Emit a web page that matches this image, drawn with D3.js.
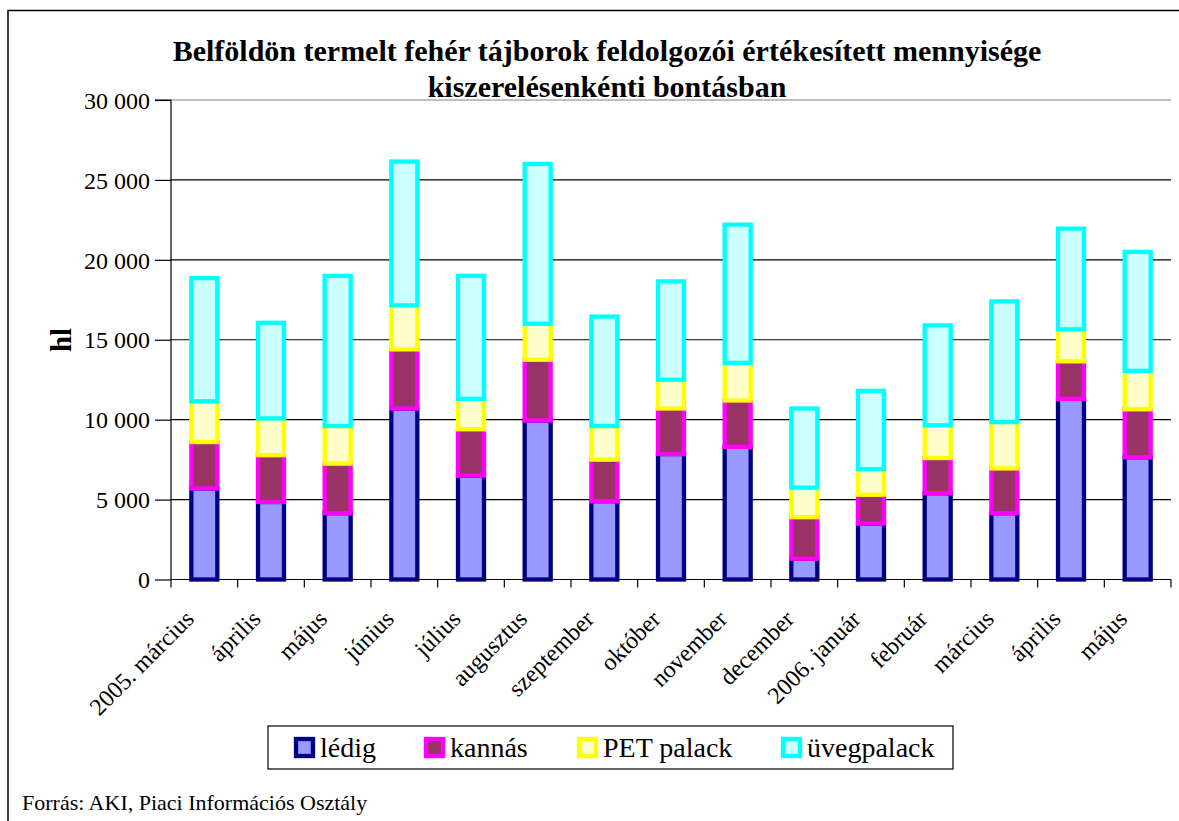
<!DOCTYPE html>
<html><head><meta charset="utf-8">
<script src="https://cdn.jsdelivr.net/npm/d3@7"></script>
<style>body{margin:0;background:#fff}svg{display:block}</style>
</head><body>
<svg id="c" width="1179" height="821"></svg>
<script>
const categories = ["2005. március","április","május","június","július","augusztus","szeptember","október","november","december","2006. január","február","március","április","május"];
const ledig     = [5700,4850,4150,10700,6500,9950,4900,7850,8300,1300,3500,5400,4150,11300,7650];
const kannas    = [2900,2930,3100,3700,2900,3800,2600,2850,2900,2600,1800,2200,2800,2350,3000];
const petPalack = [2550,2300,2350,2750,1900,2250,2100,1800,2350,1850,1600,2050,2900,2000,2400];
const uveg      = [7700,5980,9400,9000,7700,10000,6850,6150,8650,4950,4900,6250,7550,6300,7450];
const seriesNames = ["lédig","kannás","PET palack","üvegpalack"];
const yTicks = [0,5000,10000,15000,20000,25000,30000];

const fills   = ["#9999FF","#993366","#FFFFCC","#CCFFFF"];
const strokes = ["#000080","#FF00FF","#FFFF00","#00FFFF"];
const FONT = "'Liberation Serif','Times New Roman',serif";

const svg = d3.select("#c");
// outer frame (extends beyond right/bottom like reference)
svg.append("rect").attr("x",8).attr("y",10.5).attr("width",1200).attr("height",900)
  .attr("fill","#fff").attr("stroke","#000").attr("stroke-width",1.5);

const m = {l:171, r:1171, t:100, b:579.5};
const x = d3.scaleBand().domain(categories.map((d,i)=>i)).range([m.l,m.r]).paddingInner(0.61).paddingOuter(0.305);
const y = d3.scaleLinear().domain([0,30000]).range([m.b,m.t]);

// gridlines
svg.append("g").selectAll("line").data(yTicks.filter(d=>d>0)).join("line")
  .attr("x1",m.l).attr("x2",m.r).attr("y1",d=>y(d)).attr("y2",d=>y(d))
  .attr("stroke",d=>d===30000?"#c0c0c0":"#000").attr("stroke-width",d=>d===30000?2:1.2);

// stacked data
const rows = categories.map((c,i)=>({i, "lédig":ledig[i], "kannás":kannas[i], "PET palack":petPalack[i], "üvegpalack":uveg[i]}));
const stack = d3.stack().keys(seriesNames)(rows);

stack.forEach((s,k)=>{
  svg.append("g").selectAll("rect").data(s).join("rect")
    .attr("x",d=>x(d.data.i)).attr("width",x.bandwidth())
    .attr("y",d=>y(d[1])).attr("height",d=>y(d[0])-y(d[1]))
    .attr("fill",fills[k]).attr("stroke",strokes[k]).attr("stroke-width",4.3);
});

// y axis
const yAxis = svg.append("g").attr("transform",`translate(${m.l},0)`)
  .call(d3.axisLeft(y).tickValues(yTicks).tickSize(16).tickPadding(5)
    .tickFormat(d=>d3.format(",")(d).replace(/,/g," ")));
yAxis.select(".domain").attr("stroke","#000").attr("stroke-width",1.2).attr("d",`M-16,${m.t}H0V${m.b}`);
yAxis.selectAll(".tick line").attr("stroke","#000").attr("stroke-width",1.2);
yAxis.selectAll("text").attr("font-family",FONT).attr("font-size",24).attr("fill","#000").attr("dy","0.34em");

// x axis
const xAxisG = svg.append("g").attr("transform",`translate(0,${m.b})`);
xAxisG.append("line").attr("x1",m.l).attr("x2",m.r).attr("y1",0).attr("y2",0).attr("stroke","#000").attr("stroke-width",1.2);
const tickPos = d3.range(categories.length+1).map(i=>m.l + i*(m.r-m.l)/categories.length);
xAxisG.selectAll(".xt").data(tickPos).join("line").attr("class","xt")
  .attr("x1",d=>d).attr("x2",d=>d).attr("y1",0).attr("y2",8).attr("stroke","#000").attr("stroke-width",1.2);
xAxisG.selectAll(".xl").data(categories).join("text").attr("class","xl")
  .attr("transform",(d,i)=>`translate(${x(i)+x.bandwidth()/2-9},${41}) rotate(-45)`)
  .attr("text-anchor","end").attr("font-family",FONT).attr("font-size",24).attr("fill","#000")
  .text(d=>d);

// y axis title
svg.append("text").attr("transform","translate(71,340) rotate(-90)").attr("text-anchor","middle")
  .attr("font-family",FONT).attr("font-size",29).attr("font-weight","bold").text("hl");

// title
const title = svg.append("text").attr("text-anchor","middle").attr("font-family",FONT)
  .attr("font-size",30).attr("font-weight","bold");
title.append("tspan").attr("x",607).attr("y",61).text("Belföldön termelt fehér tájborok feldolgozói értékesített mennyisége");
title.append("tspan").attr("x",607).attr("y",97).text("kiszerelésenkénti bontásban");

// legend
const lg = svg.append("g");
lg.append("rect").attr("x",268).attr("y",726).attr("width",685).attr("height",43).attr("fill","#fff").attr("stroke","#000").attr("stroke-width",1.2);
const lx = [296,426,579,783];
seriesNames.forEach((n,k)=>{
  lg.append("rect").attr("x",lx[k]).attr("y",739).attr("width",17).attr("height",17)
    .attr("fill",fills[k]).attr("stroke",strokes[k]).attr("stroke-width",4.3);
  lg.append("text").attr("x",lx[k]+24).attr("y",757).attr("font-family",FONT).attr("font-size",28).text(n);
});

// source
svg.append("text").attr("x",22).attr("y",810).attr("font-family",FONT).attr("font-size",22).text("Forrás: AKI, Piaci Információs Osztály");
</script>
</body></html>
